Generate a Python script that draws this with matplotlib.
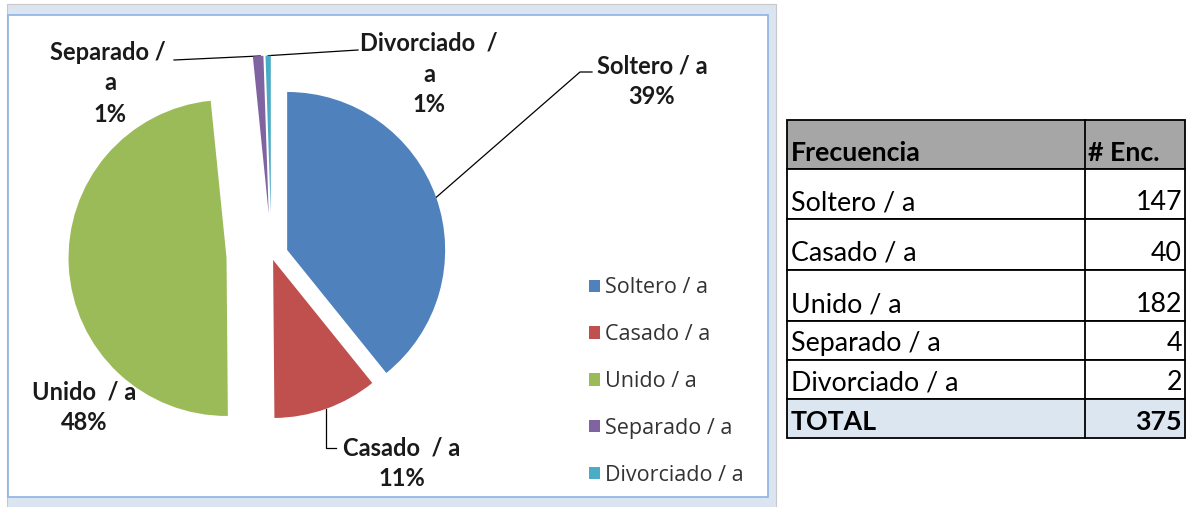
import matplotlib
matplotlib.use("Agg")
import matplotlib.pyplot as plt
from matplotlib.patches import Rectangle
import numpy as np

categories = ["Soltero / a", "Casado / a", "Unido / a", "Separado / a", "Divorciado / a"]
counts = [147, 40, 182, 4, 2]
pct_labels = ["39%", "11%", "48%", "1%", "1%"]
pie_label_names = ["Soltero / a", "Casado  / a", "Unido  / a", "Separado /\na", "Divorciado  /\na"]
table_header = ["Frecuencia", "# Enc."]
total_label = "TOTAL"
colors = ["#4F81BD", "#C0504D", "#9BBB59", "#8064A2", "#4BACC6"]
explode = [0.105, 0.03, 0.285, 0.265, 0.265]

W, H = 1189, 507
fig = plt.figure(figsize=(W / 100, H / 100), dpi=100)
FONT = ["Lato", "DejaVu Sans"]
plt.rcParams['font.family'] = FONT

# background axes in pixel coordinates (top-left origin)
bg = fig.add_axes([0, 0, 1, 1])
bg.set_xlim(0, W)
bg.set_ylim(H, 0)
bg.axis("off")

# chart frame
bg.add_patch(Rectangle((7, 4), 769, 503, facecolor="#dbe5f1", edgecolor="#c8c8c8", lw=0.8, zorder=0))
bg.add_patch(Rectangle((8, 15), 760, 482, facecolor="white", edgecolor="#8db3e2", lw=1.2, zorder=1))

# pie axes
cx, cy, R = 271.5, 255.5, 158
pax = fig.add_axes([(cx - 2 * R) / W, (H - cy - 2 * R) / H, 4 * R / W, 4 * R / H])
wedges, _ = pax.pie(counts, colors=colors, explode=explode, startangle=90,
                    counterclock=False, radius=1.0, center=(0, 0),
                    wedgeprops=dict(linewidth=0))
pax.set_aspect("auto")
pax.set_xlim(-2, 2)
pax.set_ylim(-2, 2)
pax.axis("off")


def arc_point(w, frac=0.5, rscale=1.0):
    ang = np.deg2rad(w.theta1 + (w.theta2 - w.theta1) * frac)
    x = w.center[0] + w.r * rscale * np.cos(ang)
    y = w.center[1] + w.r * rscale * np.sin(ang)
    xd, yd = pax.transData.transform((x, y))
    return xd, H - yd


lab_kw = dict(fontsize=17, fontweight="bold", color="#1a1a1a", family=FONT)

# Soltero
p = arc_point(wedges[0])
bg.plot([p[0], 580, 592], [p[1], 72, 72], color="black", lw=0.9, zorder=3)
bg.text(652, 66, pie_label_names[0], ha="center", va="center", **lab_kw)
bg.text(652, 97, pct_labels[0], ha="center", va="center", **lab_kw)

# Casado
p = arc_point(wedges[1])
bg.plot([p[0], p[0], p[0] + 10], [p[1], 448, 448], color="black", lw=0.9, zorder=3)
bg.text(402, 448, pie_label_names[1], ha="center", va="center", **lab_kw)
bg.text(402, 479, pct_labels[1], ha="center", va="center", **lab_kw)

# Unido
bg.text(84, 392, pie_label_names[2], ha="center", va="center", **lab_kw)
bg.text(84, 423, pct_labels[2], ha="center", va="center", **lab_kw)

# Separado
p = arc_point(wedges[3], 0.3)
bg.plot([174, p[0]], [60, p[1]], color="black", lw=0.9, zorder=3)
bg.text(108, 52, "Separado /", ha="center", va="center", **lab_kw)
bg.text(110, 83, "a", ha="center", va="center", **lab_kw)
bg.text(110, 115, pct_labels[3], ha="center", va="center", **lab_kw)

# Divorciado
p = arc_point(wedges[4], 0.5)
bg.plot([p[0], 358], [p[1], 50], color="black", lw=0.9, zorder=3)
bg.text(429, 43, "Divorciado  /", ha="center", va="center", **lab_kw)
bg.text(429, 75, "a", ha="center", va="center", **lab_kw)
bg.text(429, 105, pct_labels[4], ha="center", va="center", **lab_kw)

# legend
leg = fig.legend(wedges, categories, loc="upper left",
                 bbox_to_anchor=(570 / W, 1 - 258 / H), frameon=False,
                 handlelength=0.5, handleheight=0.5, handletextpad=0.22,
                 labelspacing=1.2, prop=dict(family=["Open Sans", "DejaVu Sans"], size=15.5))
for t in leg.get_texts():
    t.set_color("#333333")

# table
tx0, tx1, tx2 = 787, 1085, 1185
row_edges = [120, 169, 219, 270, 321, 360, 399, 438]
fills = ["#a6a6a6"] + ["white"] * 5 + ["#dce6f1"]
rows = [table_header] + [[c, str(v)] for c, v in zip(categories, counts)] + [[total_label, str(sum(counts))]]
for i, (r0, r1) in enumerate(zip(row_edges[:-1], row_edges[1:])):
    bg.add_patch(Rectangle((tx0, r0), tx2 - tx0, r1 - r0, facecolor=fills[i],
                           edgecolor="black", lw=1.3, zorder=2))
    bold = i == 0 or i == len(rows) - 1
    fw = "bold" if bold else "normal"
    bg.text(tx0 + 4, r1 - 4, rows[i][0], ha="left", va="bottom", fontsize=19.3,
            fontweight=fw, color="black", zorder=3)
    if i == 0:
        bg.text(tx1 + 3, r1 - 4, rows[i][1], ha="left", va="bottom", fontsize=19.3,
                fontweight=fw, color="black", zorder=3)
    else:
        bg.text(tx2 - 3, r1 - 4, rows[i][1], ha="right", va="bottom", fontsize=19.3,
                fontweight=fw, color="black", zorder=3)
bg.plot([tx1, tx1], [row_edges[0], row_edges[-1]], color="black", lw=1.3, zorder=3)

fig.savefig("out.png", dpi=100)
